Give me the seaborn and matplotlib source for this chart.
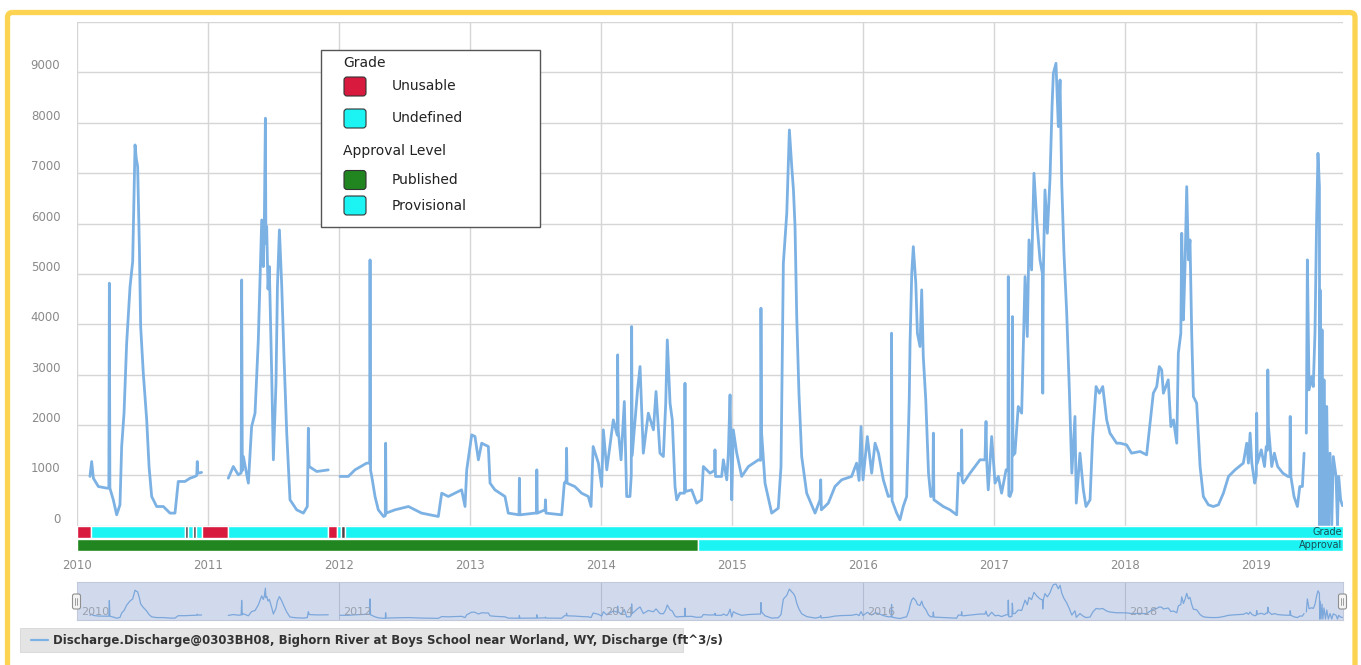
import numpy as np
import pandas as pd
import matplotlib
matplotlib.use("Agg")
import matplotlib.pyplot as plt
from matplotlib.patches import FancyBboxPatch, Rectangle
import matplotlib.transforms as mtrans
import seaborn as sns

# ---- Discharge record (ft^3/s), x in decimal years, one array pair per continuous run ----
year_2010 = [2010.099, 2010.112, 2010.125, 2010.163, 2010.226, 2010.243, 2010.247, 2010.251,
             2010.277, 2010.303, 2010.328, 2010.341, 2010.359, 2010.379, 2010.405, 2010.425,
             2010.443, 2010.452, 2010.463, 2010.476, 2010.486, 2010.506, 2010.532, 2010.550,
             2010.570, 2010.608, 2010.659, 2010.710, 2010.748, 2010.773, 2010.824, 2010.863,
             2010.901, 2010.914, 2010.918, 2010.922, 2010.951]
q_2010 = [980, 1275, 945, 780, 748, 748, 4815, 748,
          516, 218, 417, 1574, 2236, 3625, 4750, 5245,
          7560, 7300, 7130, 5540, 3955, 3030, 2103, 1177,
          582, 383, 383, 252, 252, 880, 880, 945,
          980, 1000, 1275, 1045, 1060]

year_2011 = [2011.155, 2011.193, 2011.231, 2011.253, 2011.257, 2011.262, 2011.270, 2011.308,
             2011.333, 2011.359, 2011.384, 2011.410, 2011.422, 2011.430, 2011.438, 2011.442,
             2011.448, 2011.458, 2011.468, 2011.486, 2011.499, 2011.519, 2011.530, 2011.545,
             2011.563, 2011.580, 2011.601, 2011.626, 2011.677, 2011.728, 2011.758, 2011.766,
             2011.772, 2011.830, 2011.918]
q_2011 = [945, 1177, 1012, 1050, 4880, 1100, 1375, 847,
          1970, 2236, 3690, 6071, 5145, 6000, 8090, 5600,
          5940, 4700, 5145, 3030, 1310, 2830, 4750, 5873,
          4750, 3360, 1840, 516, 317, 252, 383, 1938,
          1177, 1078, 1110]

year_2012_19 = [
    2012.008, 2012.071, 2012.122, 2012.211, 2012.234, 2012.237, 2012.241, 2012.250, 2012.275,
    2012.300, 2012.340, 2012.353, 2012.356, 2012.360, 2012.427, 2012.530, 2012.630, 2012.758,
    2012.784, 2012.834, 2012.936, 2012.962, 2012.975, 2013.013, 2013.038, 2013.064, 2013.089,
    2013.140, 2013.153, 2013.190, 2013.267, 2013.292, 2013.369, 2013.374, 2013.377, 2013.381,
    2013.496, 2013.507, 2013.510, 2013.514, 2013.573, 2013.576, 2013.580, 2013.700, 2013.720,
    2013.734, 2013.737, 2013.741, 2013.800, 2013.852, 2013.903, 2013.924, 2013.940, 2013.980,
    2014.005, 2014.018, 2014.044, 2014.094, 2014.124, 2014.127, 2014.131, 2014.153, 2014.178,
    2014.196, 2014.221, 2014.231, 2014.234, 2014.238, 2014.279, 2014.298, 2014.323, 2014.361,
    2014.400, 2014.420, 2014.450, 2014.476, 2014.494, 2014.506, 2014.527, 2014.544, 2014.565,
    2014.578, 2014.603, 2014.637, 2014.641, 2014.645, 2014.692, 2014.730, 2014.768, 2014.781,
    2014.832, 2014.867, 2014.870, 2014.874, 2014.921, 2014.934, 2014.960, 2014.972, 2014.985,
    2014.998, 2015.010, 2015.036, 2015.074, 2015.125, 2015.202, 2015.218, 2015.221, 2015.226,
    2015.252, 2015.303, 2015.353, 2015.374, 2015.392, 2015.418, 2015.438, 2015.456, 2015.469,
    2015.481, 2015.494, 2015.511, 2015.532, 2015.570, 2015.634, 2015.672, 2015.677, 2015.682,
    2015.735, 2015.786, 2015.837, 2015.913, 2015.951, 2015.970, 2015.985, 2016.000, 2016.033,
    2016.066, 2016.092, 2016.118, 2016.155, 2016.193, 2016.215, 2016.218, 2016.222, 2016.257,
    2016.282, 2016.307, 2016.333, 2016.353, 2016.359, 2016.372, 2016.384, 2016.403, 2016.415,
    2016.435, 2016.448, 2016.460, 2016.479, 2016.500, 2016.517, 2016.533, 2016.537, 2016.541,
    2016.613, 2016.664, 2016.715, 2016.727, 2016.750, 2016.753, 2016.757, 2016.766, 2016.817,
    2016.893, 2016.931, 2016.939, 2016.944, 2016.956, 2016.982, 2017.008, 2017.033, 2017.058,
    2017.092, 2017.106, 2017.109, 2017.113, 2017.122, 2017.137, 2017.140, 2017.145, 2017.160,
    2017.185, 2017.211, 2017.237, 2017.254, 2017.267, 2017.287, 2017.305, 2017.326, 2017.351,
    2017.370, 2017.372, 2017.376, 2017.389, 2017.407, 2017.427, 2017.443, 2017.453, 2017.473,
    2017.491, 2017.504, 2017.517, 2017.534, 2017.555, 2017.575, 2017.594, 2017.618, 2017.628,
    2017.656, 2017.682, 2017.702, 2017.733, 2017.753, 2017.779, 2017.804, 2017.830, 2017.860,
    2017.885, 2017.936, 2017.962, 2018.012, 2018.050, 2018.115, 2018.165, 2018.186, 2018.216,
    2018.242, 2018.262, 2018.280, 2018.293, 2018.330, 2018.350, 2018.370, 2018.395, 2018.407,
    2018.426, 2018.433, 2018.446, 2018.458, 2018.471, 2018.484, 2018.496, 2018.509, 2018.522,
    2018.547, 2018.573, 2018.598, 2018.636, 2018.674, 2018.713, 2018.751, 2018.790, 2018.840,
    2018.903, 2018.929, 2018.942, 2018.955, 2018.968, 2018.990, 2019.002, 2019.005, 2019.010,
    2019.040, 2019.065, 2019.078, 2019.087, 2019.090, 2019.095, 2019.120, 2019.140, 2019.165,
    2019.205, 2019.243, 2019.258, 2019.261, 2019.266, 2019.290, 2019.316, 2019.334, 2019.354,
    2019.367]
q_2012_19 = [
    980, 980, 1111, 1244, 1244, 5278, 1100, 980, 582,
    317, 185, 200, 1640, 252, 317, 383, 252, 185,
    648, 582, 714, 383, 1111, 1805, 1772, 1310, 1640,
    1574, 847, 714, 582, 252, 218, 218, 945, 218,
    252, 252, 1111, 252, 317, 516, 252, 218, 847,
    900, 1541, 847, 780, 648, 582, 383, 1574, 1244,
    780, 1905, 1111, 2103, 1800, 3393, 1900, 1310, 2467,
    582, 582, 1000, 3955, 1400, 2698, 3161, 1442, 2236,
    1905, 2665, 1442, 1375, 2434, 3690, 2434, 2103, 780,
    516, 648, 648, 2830, 680, 714, 450, 516, 1177,
    1045, 1100, 1508, 980, 980, 1310, 913, 1442, 2599,
    516, 1905, 1442, 980, 1177, 1310, 1300, 4319, 1840,
    847, 252, 350, 1177, 5212, 6204, 7857, 7130, 6667,
    5940, 4153, 2632, 1375, 648, 252, 516, 913, 317,
    450, 780, 913, 980, 1244, 900, 1970, 913, 1772,
    1045, 1640, 1442, 913, 582, 600, 3823, 500, 252,
    119, 383, 582, 2500, 3625, 5013, 5541, 4815, 3823,
    3558, 4683, 3360, 2500, 1045, 582, 600, 1840, 516,
    383, 317, 218, 1045, 1000, 1905, 900, 847, 1045,
    1310, 1310, 2071, 1300, 714, 1772, 847, 980, 648,
    1111, 1100, 4947, 600, 582, 700, 4153, 1400, 1442,
    2368, 2236, 4947, 3757, 5675, 5079, 6998, 6071, 5278,
    5000, 2632, 4947, 6667, 5807, 6865, 8320, 8982, 9180,
    7923, 8850, 6800, 5410, 4220, 2698, 1045, 2170, 450,
    1442, 714, 383, 516, 1772, 2764, 2632, 2764, 2103,
    1840, 1640, 1640, 1607, 1442, 1475, 1409, 1905, 2632,
    2764, 3161, 3095, 2632, 2897, 1970, 2103, 1640, 3426,
    3823, 5807, 4087, 5145, 6732, 5278, 5675, 3823, 2566,
    2434, 1177, 582, 417, 383, 417, 648, 980, 1111,
    1244, 1640, 1244, 1840, 1244, 847, 1000, 2236, 1244,
    1508, 1177, 1574, 1500, 3095, 1970, 1177, 1442, 1177,
    1045, 980, 980, 2170, 980, 582, 383, 780, 780,
    1442]

year_2019_prov = [2019.384, 2019.392, 2019.405, 2019.425, 2019.437, 2019.450, 2019.463, 2019.473,
                  2019.484, 2019.486, 2019.489, 2019.496, 2019.504, 2019.510, 2019.519, 2019.530,
                  2019.540, 2019.552, 2019.565, 2019.578, 2019.590, 2019.611, 2019.622, 2019.631,
                  2019.646, 2019.660]
q_2019_prov = [1840, 5278, 2698, 2963, 2764, 3823, 6137, 7394,
               6732, 0, 4683, 0, 3889, 0, 2897, 0,
               2368, 0, 1442, 0, 1375, 980, 0, 980,
               516, 400]

# ---- Grade and approval status bands (decimal-year spans) ----
grade_start = [2010.000, 2010.107, 2010.824, 2010.847, 2010.883, 2010.908, 2010.957, 2011.150,
               2011.918, 2011.987, 2012.013, 2012.046]
grade_end = [2010.107, 2010.824, 2010.847, 2010.883, 2010.908, 2010.957, 2011.150, 2011.918,
             2011.987, 2012.013, 2012.046, 2019.664]
grade_code = ["Unusable", "Undefined", "Mixed", "Undefined", "Mixed", "Undefined", "Unusable",
              "Undefined", "Unusable", "Undefined", "Mixed", "Undefined"]

approval_start = [2010.000, 2014.738]
approval_end = [2014.738, 2019.664]
approval_code = ["Published", "Provisional"]

year_ticks = list(range(2010, 2020))
value_ticks = list(range(0, 10001, 1000))
value_tick_labels = [str(v) for v in value_ticks[:-1]] + [""]
nav_labels = [2010, 2012, 2014, 2016, 2018]

series_name = ("Discharge.Discharge@0303BH08, Bighorn River at Boys School near Worland, WY, "
               "Discharge (ft^3/s)")

# ---- colours ----
LINE = "#7cb1e4"
CYAN = "#1cf4f4"
RED = "#d81a3e"
GREEN = "#21861f"
DARK = "#4f4048"
band_colors = {"Unusable": RED, "Undefined": CYAN, "Mixed": DARK,
               "Published": GREEN, "Provisional": CYAN}

runs = [(year_2010, q_2010), (year_2011, q_2011), (year_2012_19, q_2012_19),
        (year_2019_prov, q_2019_prov)]
df = pd.concat([pd.DataFrame({"year": y, "q": q, "run": i}) for i, (y, q) in enumerate(runs)],
               ignore_index=True)

sns.set_style("white")
plt.rcParams["font.family"] = ["DejaVu Sans"]

W, H = 1361, 665
fig = plt.figure(figsize=(W / 100, H / 100), dpi=100)
fig.patch.set_facecolor("white")

XMAX = 2019.664


def box(x0, y0, x1, y1):
    return [x0 / W, 1 - y1 / H, (x1 - x0) / W, (y1 - y0) / H]


# ---- main hydrograph ----
ax = fig.add_axes(box(77, 22, 1343, 551))
ax.set_xlim(2010, XMAX)
ax.set_ylim(-500, 10000)
ax.set_axisbelow(True)
ax.grid(True, color="#d6d6d6", linewidth=1.0)
sns.lineplot(data=df, x="year", y="q", units="run", estimator=None, sort=False,
             color=LINE, linewidth=2.0, ax=ax, legend=False, zorder=2)
ax.set_xlabel("")
ax.set_ylabel("")
ax.set_xticks(year_ticks)
ax.set_xticklabels([str(y) for y in year_ticks])
ax.set_yticks(value_ticks)
ax.set_yticklabels(value_tick_labels)
ax.tick_params(axis="both", length=0, labelsize=8.5, labelcolor="#8a8a8a")
ax.tick_params(axis="y", pad=12)
ax.tick_params(axis="x", pad=6)
for lbl in ax.get_yticklabels():
    lbl.set_verticalalignment("bottom")
for s in ax.spines.values():
    s.set_visible(False)

ax.broken_barh([(s, e - s) for s, e in zip(grade_start, grade_end)], (-250, 250),
               facecolors=[band_colors[c] for c in grade_code], zorder=3)
ax.broken_barh([(s, e - s) for s, e in zip(approval_start, approval_end)], (-500, 235),
               facecolors=[band_colors[c] for c in approval_code], zorder=3)
ax.text(XMAX - 0.005, -125, "Grade", ha="right", va="center", fontsize=7, color="#1b4d55", zorder=4)
ax.text(XMAX - 0.005, -385, "Approval", ha="right", va="center", fontsize=7, color="#1b4d55", zorder=4)

# ---- navigator strip ----
nav = fig.add_axes(box(77, 582, 1343, 620))
nav.set_facecolor("#d1daed")
nav.set_xlim(2010, XMAX)
nav.set_ylim(-250, 9700)
for yv in nav_labels[1:]:
    nav.axvline(yv, color="#b4bcd2", linewidth=0.8, zorder=0)
sns.lineplot(data=df, x="year", y="q", units="run", estimator=None, sort=False,
             color="#6d9ed8", linewidth=0.9, alpha=0.85, ax=nav, legend=False)
nav.set_xlabel("")
nav.set_ylabel("")
nav.set_xticks([])
nav.set_yticks([])
for s in nav.spines.values():
    s.set_color("#c3c9da")
    s.set_linewidth(0.8)
navtr = mtrans.blended_transform_factory(nav.transData, nav.transAxes)
for yv in nav_labels:
    nav.text(yv + 0.035, 0.22, str(yv), transform=navtr, fontsize=8, color="#9aa0ad",
             ha="left", va="center")

# ---- overlay in pixel coordinates: legend box, frame, series key ----
ov = fig.add_axes([0, 0, 1, 1], zorder=10)
ov.set_xlim(0, W)
ov.set_ylim(H, 0)
ov.axis("off")

ov.add_patch(Rectangle((321.5, 49.5), 219, 177, facecolor="white", edgecolor="#555555",
                       linewidth=1.0))
ov.text(343, 63, "Grade", fontsize=10, color="#222222", va="center", ha="left")
ov.text(343, 151, "Approval Level", fontsize=10, color="#222222", va="center", ha="left")
legend_items = [("Unusable", RED, 86.5), ("Undefined", CYAN, 118.5),
                ("Published", GREEN, 180), ("Provisional", CYAN, 205.5)]
for label, col, yc in legend_items:
    ov.add_patch(FancyBboxPatch((344, yc - 9.5), 22, 19,
                                boxstyle="round,pad=0,rounding_size=3",
                                facecolor=col, edgecolor="#333333", linewidth=0.8))
    ov.text(392, yc, label, fontsize=10, color="#222222", va="center", ha="left")

# range handles on the navigator
for hx in (76.5, 1342.5):
    ov.add_patch(FancyBboxPatch((hx - 4, 594), 8, 15, boxstyle="round,pad=0,rounding_size=2",
                                facecolor="#f4f4f4", edgecolor="#8f8f8f", linewidth=0.8))
    ov.plot([hx - 1, hx - 1], [598, 605], color="#8f8f8f", linewidth=0.6)
    ov.plot([hx + 1, hx + 1], [598, 605], color="#8f8f8f", linewidth=0.6)

# series key
ov.add_patch(Rectangle((20.5, 628), 662.5, 24, facecolor="#e4e4e4", edgecolor="#d6d6d6",
                       linewidth=0.6))
ov.plot([31, 48], [640, 640], color=LINE, linewidth=1.6)
ov.text(53, 640.5, series_name, fontsize=8.5, fontweight="bold", color="#333333",
        va="center", ha="left")

# yellow frame
ov.add_patch(FancyBboxPatch((7.5, 12.5), 1347.5, 700, boxstyle="round,pad=0,rounding_size=5",
                            facecolor="none", edgecolor="#fdd452", linewidth=3.8,
                            clip_on=False))

fig.savefig("out.png", dpi=100, facecolor="white")
